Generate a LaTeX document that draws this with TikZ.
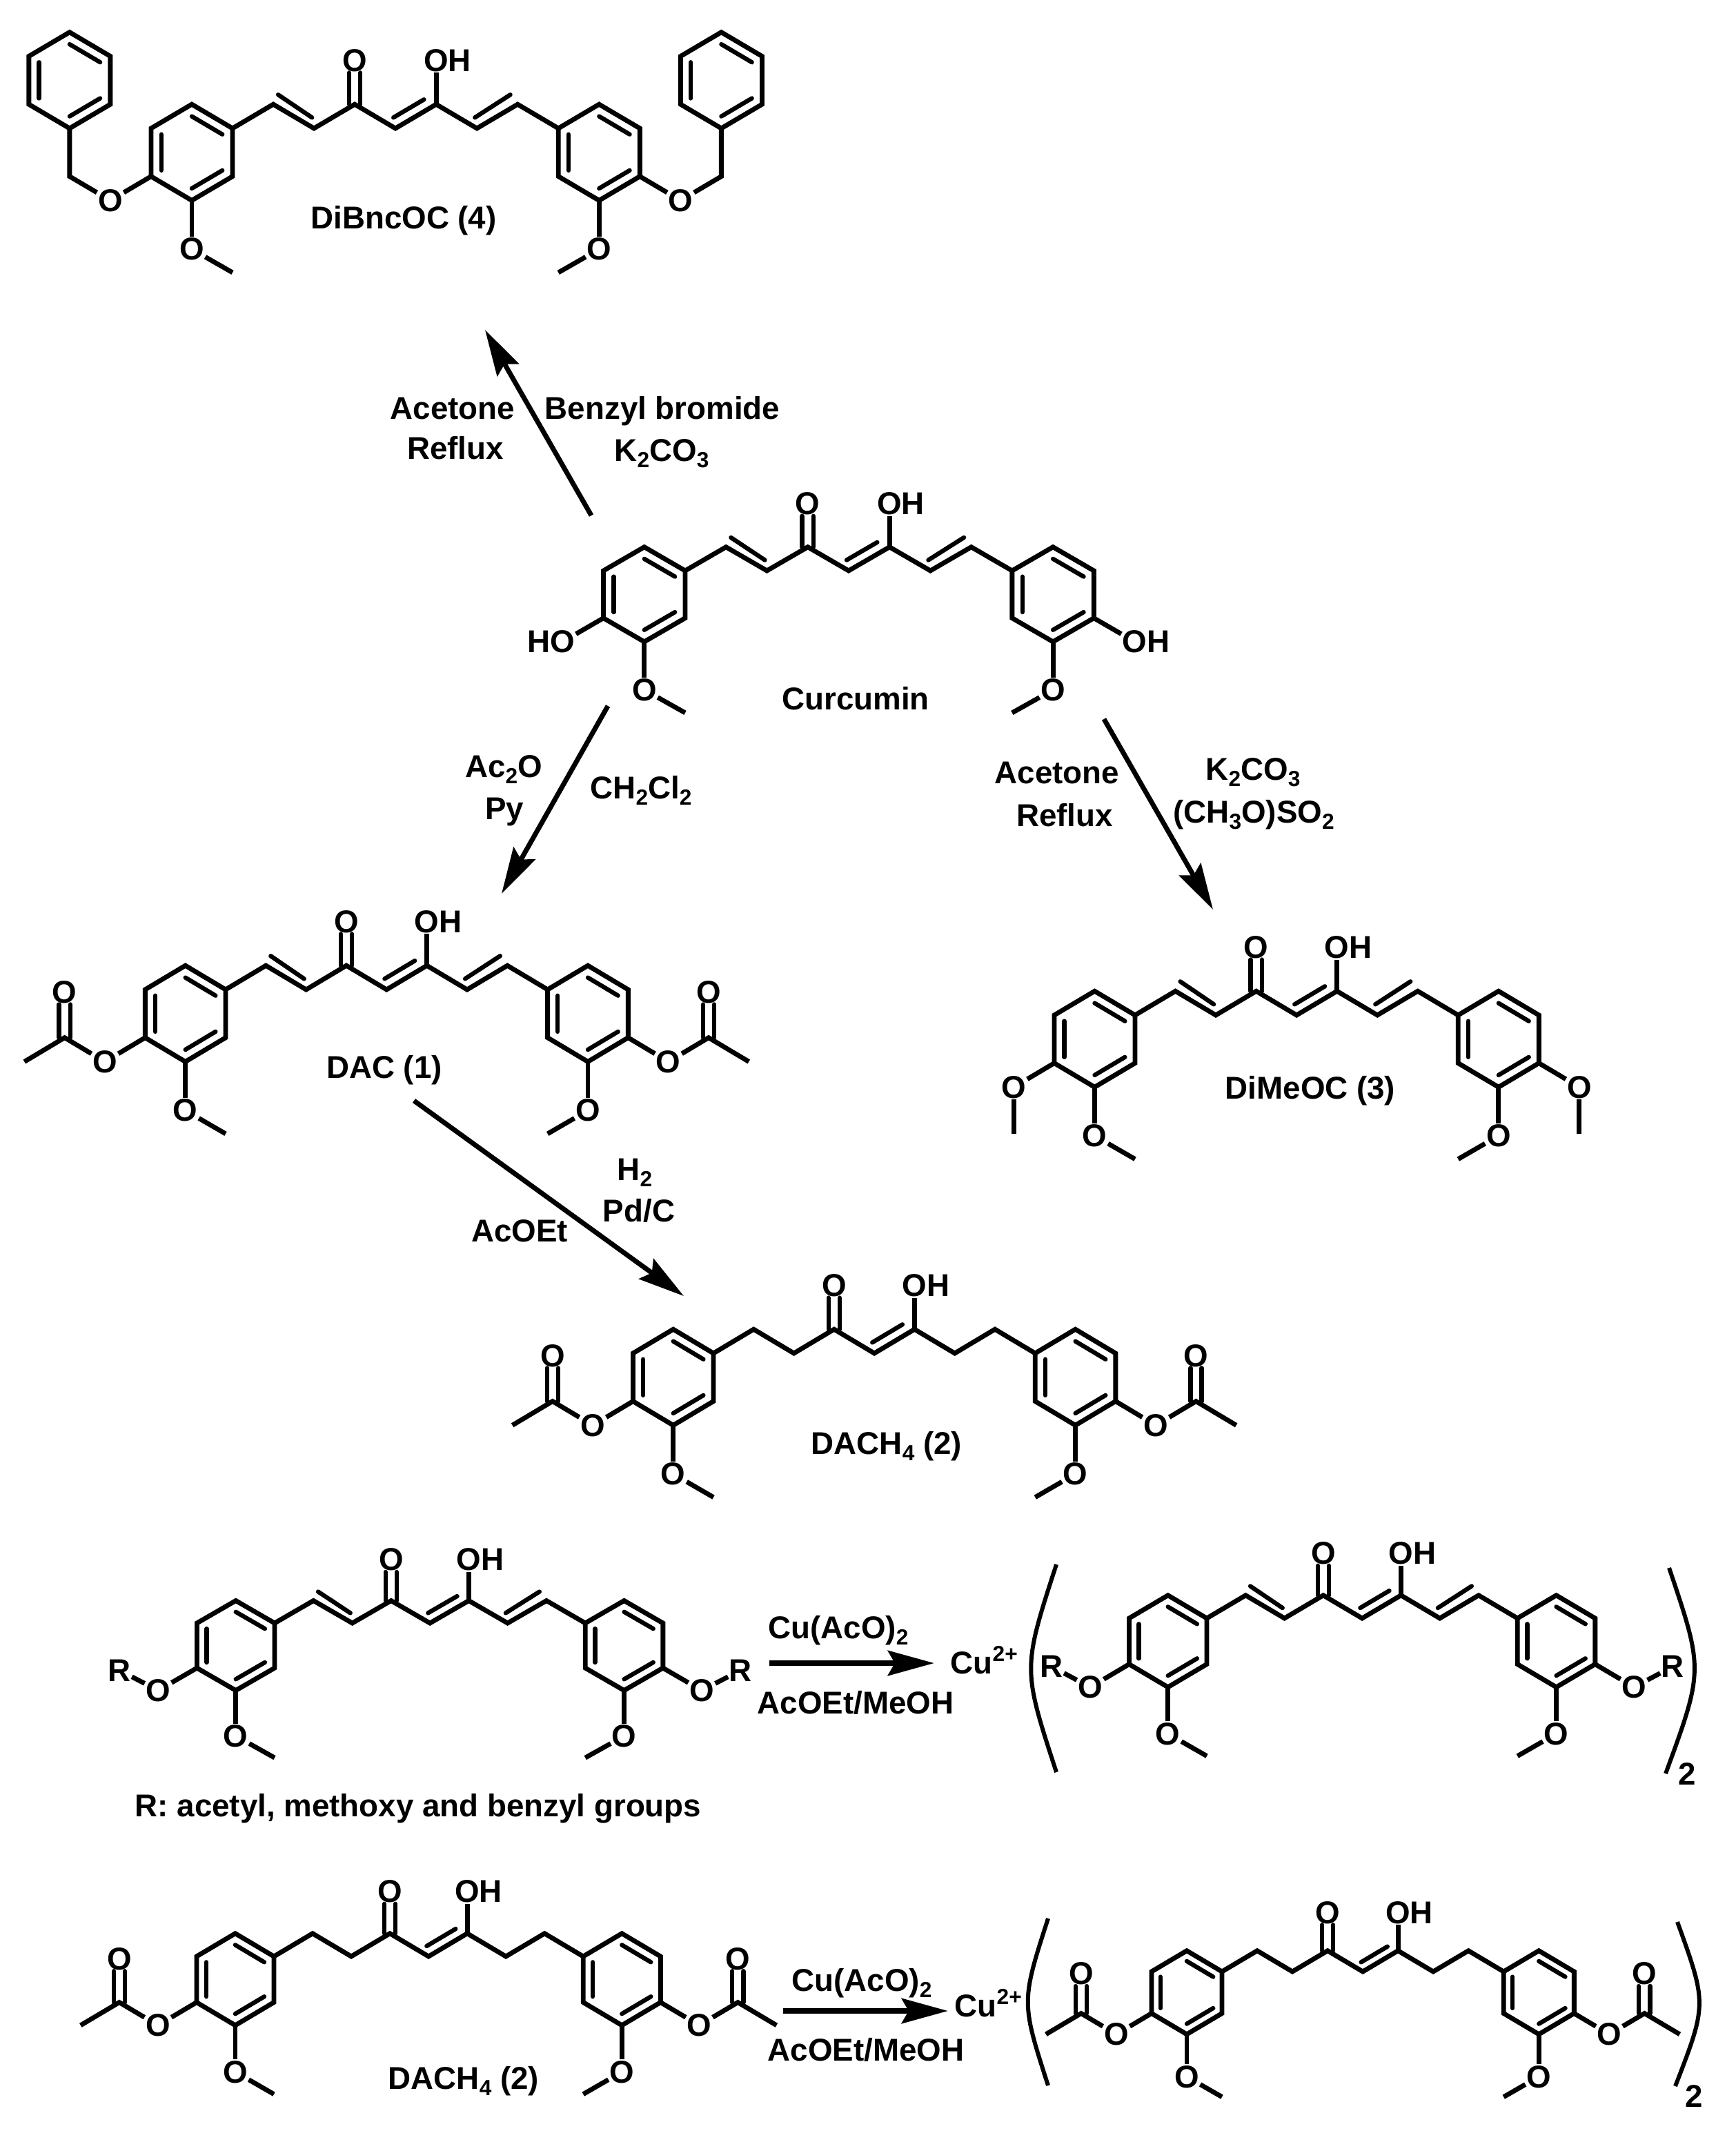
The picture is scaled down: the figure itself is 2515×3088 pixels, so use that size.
\documentclass[tikz,border=0pt]{standalone}
\usepackage{fontspec}
\setmainfont{Liberation Sans}
\usetikzlibrary{arrows.meta}

\newcommand{\chsub}[1]{\raisebox{-2.8pt}{\fontsize{9}{9}\selectfont #1}}
\newcommand{\chsup}[1]{\raisebox{5pt}{\fontsize{9}{9}\selectfont #1}}

% ring around centre (#1,#2)
\newcommand{\arylring}[2]{%
    \draw[bond] (#1,#2+2) -- (#1+1,#2+1) -- (#1+1,#2-1) -- (#1,#2-2) -- (#1-1,#2-1) -- (#1-1,#2+1) -- cycle;
    \draw[ibond] (#1,#2+1.5) -- (#1+0.75,#2+0.75);
    \draw[ibond] (#1-0.75,#2+0.75) -- (#1-0.75,#2-0.75);
    \draw[ibond] (#1,#2-1.5) -- (#1+0.75,#2-0.75);
}
% C=O: oxygen node #1, carbon #2
\newcommand{\carbonyl}[2]{%
    \draw[ibond] ([xshift=-2.3pt]#1.south) -- ([xshift=-2.3pt]#2);
    \draw[ibond] ([xshift=2.3pt]#1.south) -- ([xshift=2.3pt]#2);
}
% rings, chain, keto-enol and both OMe
\newcommand{\curcskel}{%
    \arylring{-1}{-1}
    \arylring{9}{-1}
    \foreach \cx/\cy [count=\ci] in {0/0,1/1,2/0,3/1,4/0,5/1,6/0,7/1,8/0}{
        \coordinate (c\ci) at (\cx,\cy);
    }
    \draw[bond] (c1) -- (c2) -- (c3) -- (c4) -- (c5) -- (c6) -- (c7) -- (c8) -- (c9);
    \draw[ibond] (3.95,0.45) -- (4.7,1.2);
    \node[atom] (oket) at (3,2.83) {O};
    \node[atom] (oenol) at (5,2.83) {O\rlap{H}};
    \carbonyl{oket}{c4}
    \draw[bond] (c6) -- (oenol);
    \node[atom] (ome1) at (-1,-5.03) {O};
    \node[atom] (ome2) at (9,-5.03) {O};
    \coordinate (me1) at (0,-6);
    \coordinate (me2) at (8,-6);
    \draw[bond] (-1,-3) -- (ome1);
    \draw[bond] (ome1) -- (me1);
    \draw[bond] (9,-3) -- (ome2);
    \draw[bond] (ome2) -- (me2);
}
% the two outer C=C
\newcommand{\outerene}{%
    \draw[ibond] (1.12,1.4) -- (1.95,0.45);
    \draw[ibond] (5.95,0.45) -- (6.82,1.4);
}
\newcommand{\acetylend}[4]{%
    \node[atom] (oest) at (#1,-3) {O};
    \node[atom] (oco) at (#2,-0.1) {O};
    \coordinate (cco) at (#2,-2);
    \coordinate (cme) at (#3,-3);
    \draw[bond] (#4,-2) -- (oest);
    \draw[bond] (oest) -- (cco) -- (cme);
    \carbonyl{oco}{cco}
}
\newcommand{\methylend}[2]{%
    \node[atom] (omet) at (#1,-3) {O};
    \coordinate (cme) at (#1,-4.95);
    \draw[bond] (#2,-2) -- (omet);
    \draw[bond] (omet) -- (cme);
}
\newcommand{\benzylend}[3]{%
    \arylring{#2}{2}
    \node[atom] (obn) at (#1,-3) {O};
    \coordinate (cbn) at (#2,-2);
    \draw[bond] (#3,-2) -- (obn);
    \draw[bond] (obn) -- (cbn) -- (#2,0);
}
\newcommand{\rgroupend}[3]{%
    \node[atom] (orr) at (#1,-3) {O};
    \node[atom] (rr) at (#2,-2.1) {R};
    \draw[bond] (#3,-2) -- (orr);
    \draw[bond] (orr) -- (rr);
}

\begin{document}
\begin{tikzpicture}[
        x=0.01cm, y=-0.01cm,
        % bonds
        bond/.style={line width=1.95pt},
        ibond/.style={line width=1.8pt, line cap=round},
        % atoms and labels
        atom/.style={inner sep=0.3pt, font=\fontsize{13}{15}\selectfont\bfseries},
        lbl/.style={inner sep=0pt, anchor=base, align=center, font=\fontsize{13}{15}\selectfont\bfseries},
        % reaction arrows
        rxn/.style={line width=2pt, -{Stealth[length=0.67cm,width=0.36cm,inset=0.1cm]}},
        hrxn/.style={rxn, line width=2.4pt},
        paren/.style={line width=1.7pt}
    ]
    \useasboundingbox (0,0) rectangle (2515,3088);

    % --- 1. molecules ---

    % DiBncOC
    \begin{scope}[shift={(337,186)}, x=0.59cm, y=0.348cm]
        \curcskel \outerene
        \benzylend{-3}{-4}{-2}
        \benzylend{11}{12}{10}
    \end{scope}
    % Curcumin
    \begin{scope}[shift={(993,827)}, x=0.592cm, y=0.343cm]
        \curcskel \outerene
        \node[atom] (hol) at (-3,-3) {\llap{H}O};
        \node[atom] (hor) at (11,-3) {O\rlap{H}};
        \draw[bond] (-2,-2) -- (hol);
        \draw[bond] (10,-2) -- (hor);
    \end{scope}
    % DAC
    \begin{scope}[shift={(327,1434)}, x=0.583cm, y=0.348cm]
        \curcskel \outerene
        \acetylend{-3}{-4}{-5}{-2}
        \acetylend{11}{12}{13}{10}
    \end{scope}
    % DiMeOC
    \begin{scope}[shift={(1645,1471)}, x=0.585cm, y=0.3475cm]
        \curcskel \outerene
        \methylend{-3}{-2}
        \methylend{11}{10}
    \end{scope}
    % DACH4
    \begin{scope}[shift={(1034,1961)}, x=0.5825cm, y=0.3475cm]
        \curcskel
        \acetylend{-3}{-4}{-5}{-2}
        \acetylend{11}{12}{13}{10}
    \end{scope}
    % R-substituted ligand
    \begin{scope}[shift={(398,2352)}, x=0.5625cm, y=0.325cm]
        \curcskel \outerene
        \rgroupend{-3}{-4}{-2}
        \rgroupend{11}{12}{10}
    \end{scope}
    % R-substituted complex
    \begin{scope}[shift={(1749,2345)}, x=0.5625cm, y=0.3325cm]
        \curcskel \outerene
        \rgroupend{-3}{-4}{-2}
        \rgroupend{11}{12}{10}
    \end{scope}
    % DACH4 ligand
    \begin{scope}[shift={(397,2835)}, x=0.56cm, y=0.3325cm]
        \curcskel
        \acetylend{-3}{-4}{-5}{-2}
        \acetylend{11}{12}{13}{10}
    \end{scope}
    % DACH4 complex
    \begin{scope}[shift={(1771,2857)}, x=0.51cm, y=0.3025cm]
        \curcskel
        \acetylend{-3}{-4}{-5}{-2}
        \acetylend{11}{12}{13}{10}
    \end{scope}

    % --- 2. brackets ---
    \coordinate (br1a) at (1531,2267);
    \coordinate (br1b) at (1531,2568);
    \coordinate (br2a) at (2419,2272);
    \coordinate (br2b) at (2414,2570);
    \coordinate (br3a) at (1519,2780);
    \coordinate (br3b) at (1519,3022);
    \coordinate (br4a) at (2431,2785);
    \coordinate (br4b) at (2428,3023);
    \draw[paren] (br1a) .. controls (1482,2418) .. (br1b);
    \draw[paren] (br2a) .. controls (2469,2420) .. (br2b);
    \draw[paren] (br3a) .. controls (1480,2901) .. (br3b);
    \draw[paren] (br4a) .. controls (2474,2904) .. (br4b);

    % --- 3. reaction arrows ---
    \coordinate (a1s) at (857,747);
    \coordinate (a1e) at (703,478);
    \coordinate (a2s) at (881,1023);
    \coordinate (a2e) at (727,1295);
    \coordinate (a3s) at (1600,1042);
    \coordinate (a3e) at (1758,1318);
    \coordinate (a4s) at (600,1595);
    \coordinate (a4e) at (991,1878);
    \coordinate (a5s) at (1115,2410);
    \coordinate (a5e) at (1354,2410);
    \coordinate (a6s) at (1135,2914);
    \coordinate (a6e) at (1374,2914);
    \draw[rxn] (a1s) -- (a1e);
    \draw[rxn] (a2s) -- (a2e);
    \draw[rxn] (a3s) -- (a3e);
    \draw[rxn] (a4s) -- (a4e);
    \draw[hrxn] (a5s) -- (a5e);
    \draw[hrxn] (a6s) -- (a6e);

    % --- 4. labels ---
    \node[lbl] (nbnc) at (585,332) {DiBncOC (4)};
    \node[lbl] (ncur) at (1240,1028) {Curcumin};
    \node[lbl] (ndac) at (557,1562) {DAC (1)};
    \node[lbl] (nmeo) at (1899,1592) {DiMeOC (3)};
    \node[lbl] (nach) at (1285,2107) {DACH\chsub{4} (2)};
    \node[lbl] (nach2) at (672,3027) {DACH\chsub{4} (2)};
    \node[lbl] (nrgr) at (606,2632) {R: acetyl, methoxy and benzyl groups};

    \node[lbl] (t1a) at (656,607) {Acetone};
    \node[lbl] (t1b) at (660,665) {Reflux};
    \node[lbl] (t1c) at (960,607) {Benzyl bromide};
    \node[lbl] (t1d) at (959,668) {K\chsub{2}CO\chsub{3}};
    \node[lbl] (t2a) at (730,1126) {Ac\chsub{2}O};
    \node[lbl] (t2b) at (731,1187) {Py};
    \node[lbl] (t2c) at (929,1157) {CH\chsub{2}Cl\chsub{2}};
    \node[lbl] (t3a) at (1532,1135) {Acetone};
    \node[lbl] (t3b) at (1543,1197) {Reflux};
    \node[lbl] (t3c) at (1816,1130) {K\chsub{2}CO\chsub{3}};
    \node[lbl] (t3d) at (1817,1192) {(CH\chsub{3}O)SO\chsub{2}};
    \node[lbl] (t4a) at (920,1710) {H\chsub{2}};
    \node[lbl] (t4b) at (926,1770) {Pd/C};
    \node[lbl] (t4c) at (753,1799) {AcOEt};
    \node[lbl] (t5a) at (1215,2374) {Cu(AcO)\chsub{2}};
    \node[lbl] (t5b) at (1240,2483) {AcOEt/MeOH};
    \node[lbl,anchor=base west] (t5c) at (1377,2425) {Cu\chsup{2+}};
    \node[lbl] (t5d) at (2445,2586) {2};
    \node[lbl] (t6a) at (1249,2885) {Cu(AcO)\chsub{2}};
    \node[lbl] (t6b) at (1255,2986) {AcOEt/MeOH};
    \node[lbl,anchor=base west] (t6c) at (1383,2922) {Cu\chsup{2+}};
    \node[lbl] (t6d) at (2455,3053) {2};

\end{tikzpicture}
\end{document}
